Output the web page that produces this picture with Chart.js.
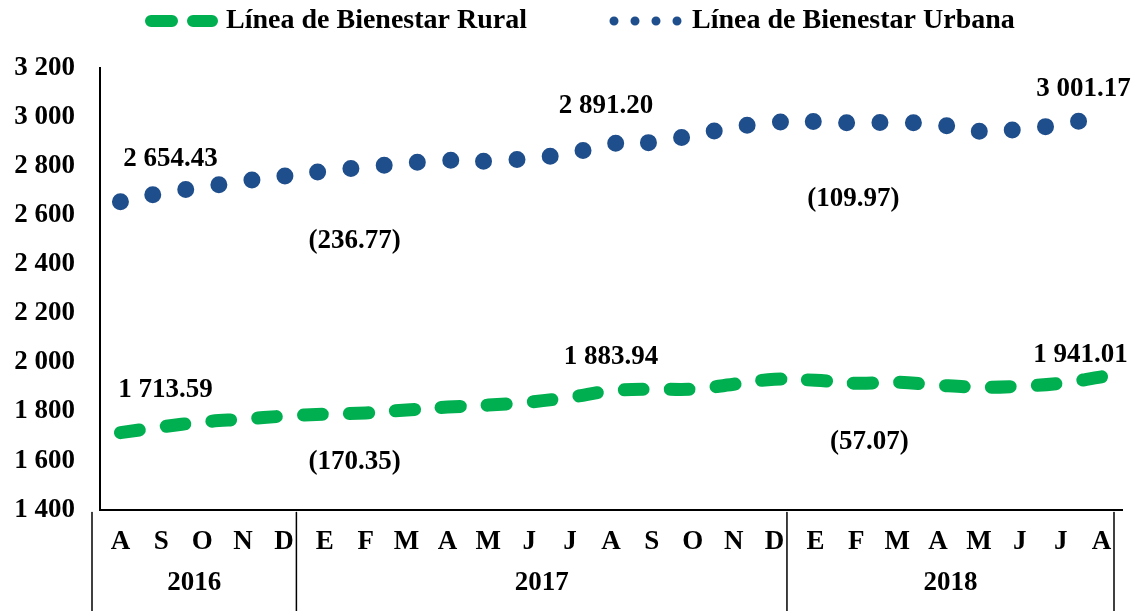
<!DOCTYPE html>
<html>
<head>
<meta charset="utf-8">
<script src="https://cdn.jsdelivr.net/npm/chart.js@4.4.1/dist/chart.umd.min.js"></script>
<style>
  html, body { margin: 0; padding: 0; background: #fff; }
  #wrap { width: 1135px; height: 611px; }
</style>
</head>
<body>
<div id="wrap"><canvas id="myChart" width="1135" height="611"></canvas></div>
<script>
// months Aug 2016 .. Aug 2018
const months = ['A', 'S', 'O', 'N', 'D',
  'E', 'F', 'M', 'A', 'M', 'J', 'J', 'A', 'S', 'O', 'N', 'D',
  'E', 'F', 'M', 'A', 'M', 'J', 'J', 'A'];
const years = ['2016', '2017', '2018'];
const yearSpans = [5, 12, 8];

const rural = [1713.59, 1737, 1757, 1769, 1781,
  1789, 1794, 1806, 1818, 1826, 1838, 1858, 1883.94, 1891, 1891, 1911, 1931,
  1927, 1915, 1919, 1907, 1899, 1903, 1915, 1941.01];
const urbana = [2654.43, 2690, 2714, 2739, 2759,
  2779, 2796, 2812, 2824, 2820, 2832, 2852, 2891.20, 2897, 2925, 2958, 2978,
  2982, 2976, 2978, 2970, 2942, 2950, 2970, 3001.17];

const labelIdx = [0, 12, 24];

const FONT = "'Liberation Serif', 'Times New Roman', serif";
const GREEN = '#00b050';
const BLUE = '#1f4e8c';

function fmt(v, dec) {
  const s = v.toFixed(dec);
  const parts = s.split('.');
  parts[0] = parts[0].replace(/\B(?=(\d{3})+(?!\d))/g, ' ');
  return parts.join('.');
}

// offsets for the value / difference labels (pixels)
const valOffsets = [
  [[45, -43], [0, -34], [-21, -22]],   // rural
  [[50, -43], [-5, -38], [-18, -28]]   // urbana
];
const diffOffsets = [
  [[-11, 29], [13, 51]],
  [[-11, 39], [-3, 55]]
];

const extras = {
  id: 'extras',
  afterDraw(chart) {
    const ctx = chart.ctx;
    const x = chart.scales.x, y = chart.scales.y;
    const area = chart.chartArea;
    ctx.save();

    // legend
    ctx.font = 'bold 28px ' + FONT;
    ctx.fillStyle = '#000';
    ctx.textBaseline = 'middle';
    ctx.textAlign = 'left';
    ctx.strokeStyle = GREEN;
    ctx.lineWidth = 12;
    ctx.lineCap = 'round';
    ctx.setLineDash([21, 21]);
    ctx.beginPath(); ctx.moveTo(151, 21); ctx.lineTo(212, 21); ctx.stroke();
    ctx.fillText(chart.data.datasets[0].label, 226, 21);
    ctx.strokeStyle = BLUE;
    ctx.lineWidth = 9;
    ctx.setLineDash([0, 21]);
    ctx.beginPath(); ctx.moveTo(614, 21); ctx.lineTo(680, 21); ctx.stroke();
    ctx.fillText(chart.data.datasets[1].label, 692, 21);
    ctx.setLineDash([]);

    // value labels and differences
    ctx.font = 'bold 27px ' + FONT;
    ctx.textAlign = 'center';
    chart.data.datasets.forEach((ds, d) => {
      labelIdx.forEach((i, k) => {
        const px = x.getPixelForValue(i), py = y.getPixelForValue(ds.data[i]);
        ctx.fillText(fmt(ds.data[i], 2), px + valOffsets[d][k][0], py + valOffsets[d][k][1]);
      });
      for (let k = 0; k < labelIdx.length - 1; k++) {
        const a = labelIdx[k], b = labelIdx[k + 1];
        const mx = (x.getPixelForValue(a) + x.getPixelForValue(b)) / 2;
        const py = y.getPixelForValue(ds.data[a]);
        const diff = '(' + fmt(ds.data[b] - ds.data[a], 2) + ')';
        ctx.fillText(diff, mx + diffOffsets[d][k][0], py + diffOffsets[d][k][1]);
      }
    });

    // year row with separators
    const band = x.getPixelForValue(1) - x.getPixelForValue(0);
    const shift = -8;
    ctx.strokeStyle = '#000';
    ctx.lineWidth = 1.5;
    let start = 0;
    const edges = [x.getPixelForValue(0) - band / 2 + shift];
    yearSpans.forEach(n => {
      start += n;
      edges.push(x.getPixelForValue(start - 1) + band / 2 + shift);
    });
    edges.forEach(e => {
      ctx.beginPath(); ctx.moveTo(e, area.bottom + 3); ctx.lineTo(e, 611); ctx.stroke();
    });
    years.forEach((yr, i) => {
      ctx.fillText(yr, (edges[i] + edges[i + 1]) / 2, 583);
    });
    ctx.restore();
  }
};

new Chart(document.getElementById('myChart').getContext('2d'), {
  type: 'line',
  data: {
    labels: months,
    datasets: [{
      label: 'Línea de Bienestar Rural',
      data: rural,
      borderColor: GREEN,
      borderWidth: 13,
      borderDash: [19, 27],
      borderCapStyle: 'round',
      tension: 0.4,
      pointRadius: 0,
      fill: false
    }, {
      label: 'Línea de Bienestar Urbana',
      data: urbana,
      borderColor: BLUE,
      borderWidth: 17,
      borderDash: [0, 33.3],
      borderCapStyle: 'round',
      tension: 0.4,
      pointRadius: 0,
      fill: false
    }]
  },
  options: {
    responsive: false,
    animation: false,
    clip: false,
    layout: { padding: { top: 68, right: 13, bottom: 37, left: 0 } },
    plugins: { legend: { display: false }, tooltip: { enabled: false } },
    scales: {
      x: {
        offset: true,
        grid: { display: false, drawTicks: false },
        border: { display: true, color: '#000', width: 2 },
        ticks: {
          autoSkip: false, maxRotation: 0, padding: 16, color: '#000',
          font: { family: FONT, size: 27, weight: 'bold' }
        }
      },
      y: {
        min: 1400,
        max: 3200,
        grid: { display: false, drawTicks: false },
        border: { display: true, color: '#000', width: 2 },
        afterFit(scale) { scale.width = 100; },
        ticks: {
          stepSize: 200, padding: 25, color: '#000',
          font: { family: FONT, size: 27, weight: 'bold' },
          callback: v => fmt(v, 0)
        }
      }
    }
  },
  plugins: [extras]
});
</script>
</body>
</html>
